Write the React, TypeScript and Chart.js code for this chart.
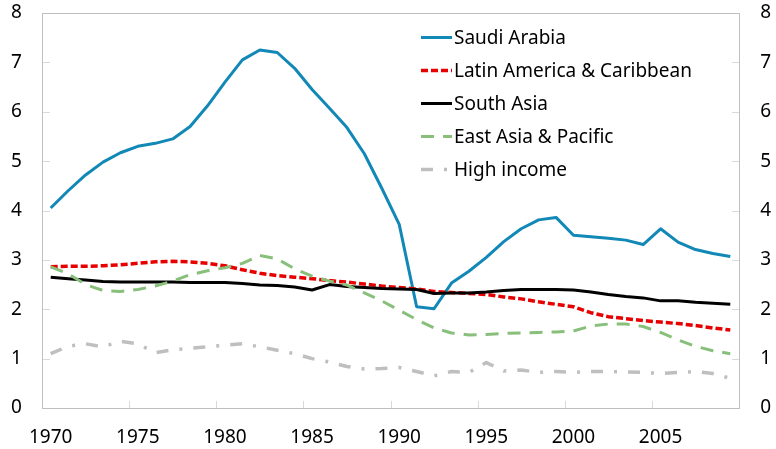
import React, { useEffect, useRef } from "react";
import { Chart, registerables } from "chart.js";

Chart.register(...registerables);

const years = [
  "1970", "1971", "1972", "1973", "1974", "1975", "1976", "1977", "1978", "1979",
  "1980", "1981", "1982", "1983", "1984", "1985", "1986", "1987", "1988", "1989",
  "1990", "1991", "1992", "1993", "1994", "1995", "1996", "1997", "1998", "1999",
  "2000", "2001", "2002", "2003", "2004", "2005", "2006", "2007", "2008", "2009",
];

const xTickLabels = ["1970", "1975", "1980", "1985", "1990", "1995", "2000", "2005"];
const yTickValues = [0, 1, 2, 3, 4, 5, 6, 7, 8];

const saudiArabia = [
  4.05, 4.4, 4.72, 4.98, 5.17, 5.3, 5.36, 5.45, 5.7, 6.12,
  6.6, 7.05, 7.25, 7.2, 6.88, 6.45, 6.07, 5.68, 5.15, 4.45,
  3.72, 2.05, 2.01, 2.53, 2.77, 3.05, 3.37, 3.63, 3.81, 3.86,
  3.5, 3.47, 3.44, 3.4, 3.31, 3.63, 3.36, 3.21, 3.13, 3.07,
];

const latinAmerica = [
  2.86, 2.87, 2.87, 2.88, 2.9, 2.93, 2.96, 2.97, 2.96, 2.93,
  2.88, 2.8, 2.73, 2.68, 2.65, 2.62, 2.58, 2.55, 2.51, 2.47,
  2.44, 2.41, 2.36, 2.34, 2.32, 2.3, 2.25, 2.21, 2.15, 2.1,
  2.05, 1.93, 1.85, 1.81, 1.77, 1.74, 1.71, 1.67, 1.62, 1.58,
];

const southAsia = [
  2.65, 2.62, 2.59, 2.56, 2.55, 2.55, 2.55, 2.55, 2.54, 2.54,
  2.54, 2.52, 2.49, 2.48, 2.45, 2.39, 2.5, 2.46, 2.44, 2.42,
  2.41, 2.4, 2.32, 2.33, 2.33, 2.35, 2.38, 2.4, 2.4, 2.4,
  2.39, 2.35, 2.3, 2.26, 2.23, 2.17, 2.17, 2.14, 2.12, 2.1,
];

const eastAsiaPacific = [
  2.86, 2.72, 2.5, 2.38, 2.36, 2.4, 2.47, 2.57, 2.7, 2.78,
  2.84, 2.93, 3.09, 3.02, 2.82, 2.67, 2.57, 2.49, 2.33, 2.17,
  1.98, 1.79, 1.62, 1.52, 1.48, 1.49, 1.51, 1.52, 1.53, 1.54,
  1.56, 1.66, 1.7, 1.7, 1.65, 1.53, 1.38, 1.25, 1.16, 1.1,
];

const highIncome = [
  1.1, 1.25, 1.3, 1.24, 1.35, 1.3, 1.12, 1.18, 1.21, 1.24,
  1.27, 1.3, 1.24, 1.17, 1.1, 1.0, 0.93, 0.84, 0.79, 0.8,
  0.82, 0.74, 0.65, 0.74, 0.72, 0.92, 0.75, 0.77, 0.72, 0.74,
  0.72, 0.74, 0.74, 0.73, 0.72, 0.7, 0.72, 0.74, 0.7, 0.6,
];

const seriesNames = [
  "Saudi Arabia",
  "Latin America & Caribbean",
  "South Asia",
  "East Asia & Pacific",
  "High income",
];

const FONT = '"Noto Sans", "Open Sans", sans-serif';

const framePlugin = {
  id: "frameTicks",
  beforeDatasetsDraw(chart: any) {
    const { ctx, chartArea } = chart;
    const x = chart.scales.x;
    const y = chart.scales.y;
    ctx.save();
    ctx.setLineDash([]);
    ctx.strokeStyle = "#d9d9d9";
    ctx.lineWidth = 1;
    yTickValues.forEach((v) => {
      const py = Math.round(y.getPixelForValue(v)) + 0.5;
      ctx.beginPath();
      ctx.moveTo(chartArea.left, py);
      ctx.lineTo(chartArea.left + 8, py);
      ctx.moveTo(chartArea.right - 7, py);
      ctx.lineTo(chartArea.right, py);
      ctx.stroke();
    });
    const half = (x.getPixelForValue(1) - x.getPixelForValue(0)) / 2;
    years.forEach((yr, i) => {
      if (i > 0 && xTickLabels.includes(yr)) {
        const px = Math.round(x.getPixelForValue(i) - half) + 0.5;
        ctx.beginPath();
        ctx.moveTo(px, chartArea.bottom);
        ctx.lineTo(px, chartArea.bottom - 7);
        ctx.stroke();
      }
    });
    ctx.strokeStyle = "#bfbfbf";
    ctx.lineWidth = 1;
    ctx.strokeRect(
      Math.round(chartArea.left) + 0.5,
      Math.round(chartArea.top) + 0.5,
      Math.round(chartArea.right - chartArea.left),
      Math.round(chartArea.bottom - chartArea.top)
    );
    ctx.restore();
  },
};

const insideLegendPlugin = {
  id: "insideLegend",
  afterDraw(chart: any) {
    const { ctx } = chart;
    const x0 = 421;
    const y0 = 37.5;
    const step = 33;
    ctx.save();
    chart.data.datasets.forEach((ds: any, i: number) => {
      const yy = y0 + i * step;
      ctx.beginPath();
      ctx.setLineDash(ds.borderDash || []);
      ctx.lineCap = "butt";
      ctx.strokeStyle = ds.borderColor;
      ctx.lineWidth = ds.borderWidth;
      ctx.moveTo(x0, yy);
      ctx.lineTo(x0 + 31, yy);
      ctx.stroke();
      ctx.setLineDash([]);
      ctx.fillStyle = "#000";
      ctx.font = `19px ${FONT}`;
      ctx.textBaseline = "middle";
      ctx.textAlign = "left";
      ctx.fillText(ds.label, x0 + 33, yy + 1);
    });
    ctx.restore();
  },
};

export default function App() {
  const canvasRef = useRef<HTMLCanvasElement | null>(null);

  useEffect(() => {
    if (!canvasRef.current) return;
    const chart = new Chart(canvasRef.current, {
      type: "line",
      data: {
        labels: years,
        datasets: [
          {
            label: seriesNames[0],
            data: saudiArabia,
            borderColor: "#1188b6",
            borderWidth: 3,
            borderDash: [],
            order: 5,
          },
          {
            label: seriesNames[1],
            data: latinAmerica,
            borderColor: "#e60000",
            borderWidth: 3.5,
            borderDash: [7, 3],
            order: 4,
          },
          {
            label: seriesNames[2],
            data: southAsia,
            borderColor: "#000000",
            borderWidth: 3,
            borderDash: [],
            order: 3,
          },
          {
            label: seriesNames[3],
            data: eastAsiaPacific,
            borderColor: "#88c07b",
            borderWidth: 3,
            borderDash: [13, 9],
            order: 2,
          },
          {
            label: seriesNames[4],
            data: highIncome,
            borderColor: "#bfbfbf",
            borderWidth: 3.5,
            borderDash: [12, 11, 3, 11],
            order: 1,
          },
        ].map((d) => ({
          ...d,
          fill: false,
          pointRadius: 0,
          pointHoverRadius: 0,
          tension: 0,
          borderCapStyle: "butt" as const,
          borderJoinStyle: "round" as const,
          yAxisID: "y",
        })),
      },
      options: {
        responsive: false,
        animation: false,
        layout: { padding: { top: 13, left: 11, right: 5, bottom: 0 } },
        plugins: {
          legend: { display: false },
          tooltip: { enabled: false },
        },
        scales: {
          x: {
            type: "category",
            offset: true,
            grid: { display: false, drawTicks: false, offset: true },
            border: { display: false },
            ticks: {
              autoSkip: false,
              maxRotation: 0,
              padding: 18,
              color: "#000",
              font: { family: FONT, size: 19 },
              callback: function (this: any, value: any) {
                const lbl = this.getLabelForValue(value);
                return xTickLabels.includes(lbl) ? lbl : "";
              },
            },
            afterFit: (scale: any) => {
              scale.height = 41;
            },
          },
          y: {
            position: "left",
            min: 0,
            max: 8,
            grid: { display: false, drawTicks: false },
            border: { display: false },
            ticks: {
              stepSize: 1,
              padding: 0,
              crossAlign: "far",
              color: "#000",
              font: { family: FONT, size: 19 },
            },
            afterFit: (scale: any) => {
              scale.width = 31;
            },
          },
          y2: {
            position: "right",
            min: 0,
            max: 8,
            grid: { display: false, drawTicks: false },
            border: { display: false },
            ticks: {
              stepSize: 1,
              padding: 0,
              crossAlign: "far",
              color: "#000",
              font: { family: FONT, size: 19 },
            },
            afterFit: (scale: any) => {
              scale.width = 32;
            },
          },
        },
      },
      plugins: [framePlugin, insideLegendPlugin],
    });
    return () => chart.destroy();
  }, []);

  return (
    <div style={{ position: "fixed", left: 0, top: 0, width: 776, height: 449, background: "#fff" }}>
      <canvas ref={canvasRef} width={776} height={449} style={{ width: 776, height: 449, display: "block" }} />
    </div>
  );
}
